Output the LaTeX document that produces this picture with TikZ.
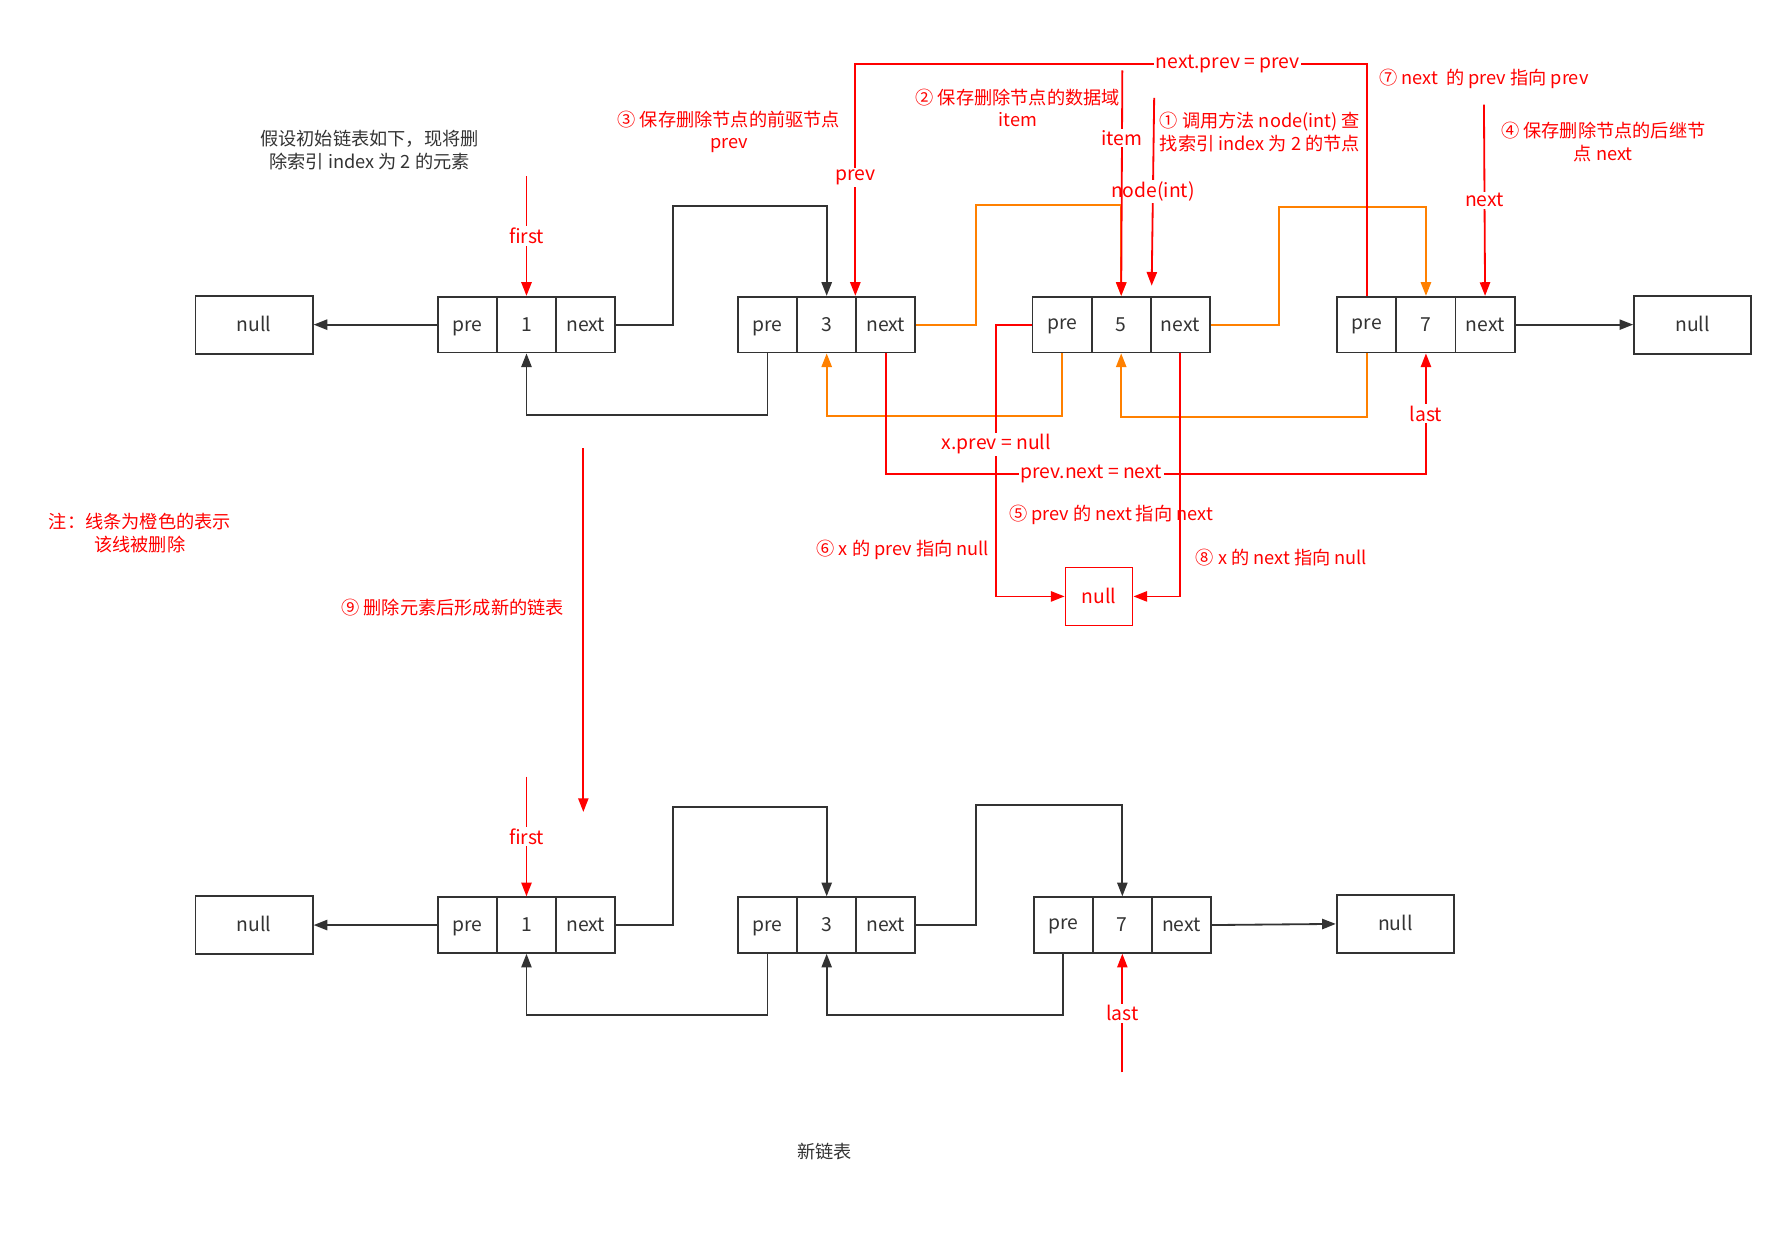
\documentclass[tikz,border=0pt]{standalone}
\usepackage{fontspec}
\setmainfont{Noto Sans CJK SC}
\usetikzlibrary{arrows.meta}
\definecolor{dk}{HTML}{333333}
\definecolor{rd}{HTML}{FF0000}
\definecolor{og}{HTML}{FF8000}

% one doubly linked list node: three cells pre | value | next
% #5 lifts the "pre" text a little in some nodes
\newcommand\listnode[5]{%
  \node[cell] (#1-p) at ({#2+26},#3) {\raisebox{#5}{pre}};
  \node[cell] (#1-v) at ({#2+78},#3) {#4};
  \node[cell] (#1-n) at ({#2+130},#3) {next};
}

\begin{document}
\begin{tikzpicture}[x=1pt,y=-1pt,
  tip/.style={-{Triangle[length=12pt,width=9pt]}},
  cell/.style={draw=dk, line width=1.6pt, minimum width=52pt, minimum height=49pt,
    inner sep=0pt, text=dk, text height=15pt, text depth=3pt,
    font=\fontsize{17}{20}\selectfont},
  nullbox/.style={cell, minimum width=103pt, minimum height=51pt},
  blk/.style={draw=dk, line width=1.6pt, tip},
  org/.style={draw=og, line width=1.6pt, tip},
  rarr/.style={draw=rd, line width=1.6pt, tip},
  lbl/.style={fill=white, text=rd, inner sep=1.5pt, font=\fontsize{17}{20}\selectfont},
  note/.style={text=rd, align=center, inner sep=1pt, font=\fontsize{16}{20}\selectfont},
]
\useasboundingbox (0,0) rectangle (1568,1099);

% ---------- list before the removal ----------
\node[nullbox] (n0) at (223.5,285.5) {null};
\listnode{a}{385}{285.5}{1}{0pt}
\listnode{b}{649}{285.5}{3}{0pt}
\listnode{c}{908}{285.5}{5}{2pt}
\listnode{d}{1176}{285.5}{7}{2pt}
\node[nullbox] (n9) at (1488.5,285.5) {null};
\node[nullbox, draw=rd, text=rd, minimum width=59pt] (nx) at (966.5,524.5) {null};

\draw[blk] (a-p.west) -- (n0.east);
\draw[blk] (a-n.east) -| (592,181) -| (b-v.north);
\draw[blk] (b-p.south) -- ++(0,54) -| (a-v.south);
\draw[blk] (d-n.east) -- (n9.west);

% links that get removed
\draw[org] (b-n.east) -| (858,180) -| (c-v.north);
\draw[org] (c-p.south) -- ++(0,55) -| (b-v.south);
\draw[org] (c-n.east) -| (1125,182) -| (d-v.north);
\draw[org] (d-p.south) -- ++(0,56) -| (c-v.south);

% pointers and new links
\coordinate (fA) at (463,155);
\draw[rarr] (fA) -- node[lbl]{first} (a-v.north);

\draw[rarr] (d-p.north) |- node[lbl,pos=0.636]{next.prev = prev}
  (b-n.north west |- 0,56) -- node[lbl,pos=0.49]{prev} (b-n.north west);

\coordinate (nA) at (1015,86);
\draw[rarr] (nA) -- node[lbl]{node(int)} ([yshift=9pt]c-v.north east);

\coordinate (iA) at (987,62);
\draw[rarr] (iA) -- node[lbl,pos=0.3]{item} (c-v.north);

\coordinate (xA) at (1305,92);
\draw[rarr] (xA) -- node[lbl]{next} (d-n.north);

\draw[rarr] (b-n.south) |- node[lbl,pos=0.69]{prev.next = next}
  (d-v.south |- 0,417) -- node[lbl]{last} (d-v.south);

\draw[rarr] (c-p.west) -- ++(-31,0) |- node[lbl,pos=0.22]{x.prev = null} (nx.west);
\draw[rarr] (c-n.south) |- (nx.east);

\coordinate (s9a) at (513,394);
\coordinate (s9b) at (513,714);
\draw[rarr] (s9a) -- (s9b);

% ---------- list after the removal ----------
\node[nullbox] (m0) at (223.5,813.5) {null};
\listnode{e}{385}{813.5}{1}{0pt}
\listnode{f}{649}{813.5}{3}{0pt}
\listnode{g}{909}{813.5}{7}{2pt}
\node[nullbox] (m9) at (1227,812.5) {null};

\draw[blk] (e-p.west) -- (m0.east);
\draw[blk] (e-n.east) -| (592,710) -| (f-v.north);
\draw[blk] (f-p.south) -- ++(0,54) -| (e-v.south);
\draw[blk] (f-n.east) -| (858,708) -| (g-v.north);
\draw[blk] (g-p.south) -- ++(0,54) -| (f-v.south);
\draw[blk] (g-n.east) -- (m9.west);

\coordinate (fB) at (463,683);
\draw[rarr] (fB) -- node[lbl]{first} (e-v.north);
\coordinate (lB) at (987,943);
\draw[rarr] (lB) -- node[lbl]{last} (g-v.south);

% ---------- notes ----------
\node[note, text=dk] (t0) at (325,132) {假设初始链表如下，现将删\\除索引 index 为 2 的元素};
\node[note] (t3) at (641,116) {③ 保存删除节点的前驱节点\\prev};
\node[note] (t2) at (895,95) {② 保存删除节点的数据域\\item};
\node[note] (t1) at (1108,116) {① 调用方法 node(int) 查\\找索引 index 为 2 的节点};
\node[note] (t7) at (1305,69) {⑦ next~~的 prev 指向 prev};
\node[note] (t4) at (1410,125) {④ 保存删除节点的后继节\\点 next};
\node[note] (tn) at (123,469) {注：线条为橙色的表示\\该线被删除};
\node[note] (t9) at (398,534) {⑨ 删除元素后形成新的链表};
\node[note] (t5) at (977,453) {⑤ prev 的 next 指向 next};
\node[note] (t6) at (794,484) {⑥ x 的 prev 指向 null};
\node[note] (t8) at (1127,490) {⑧ x 的 next 指向 null};
\node[note, text=dk] (tt) at (725,1013) {新链表};
\end{tikzpicture}
\end{document}
